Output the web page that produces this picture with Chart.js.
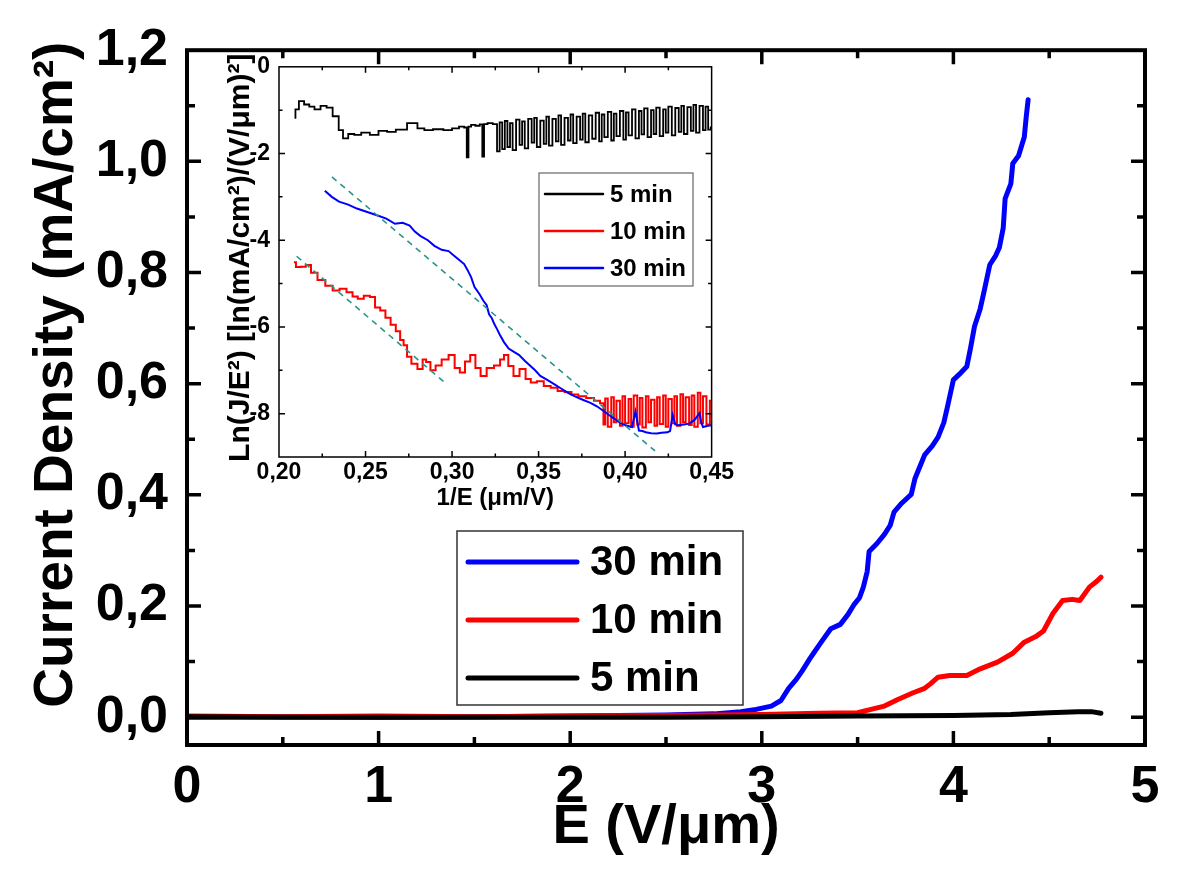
<!DOCTYPE html>
<html lang="en">
<head>
    <meta charset="UTF-8">
    <style>
        body {
            margin: 0;
            background-color: #ffffff;
        }
        .wrap {
            position: relative;
            width: 1200px;
            height: 878px;
        }
        #mainChart {
            position: absolute;
            left: 0;
            top: 0;
        }
        #insetChart {
            position: absolute;
            left: 196px;
            top: 44px;
        }
    </style>
    <script src="https://cdn.jsdelivr.net/npm/chart.js"></script>
    <title>Current Density vs E</title>
</head>
<body>
    <div class="wrap">
        <canvas id="mainChart" width="1200" height="878"></canvas>
        <canvas id="insetChart" width="540" height="484"></canvas>
    </div>

    <script>
        // ---- main plot data: J (mA/cm2) vs E (V/um)
        const seriesNames = ["30 min", "10 min", "5 min"];

        const blueE = [0, 0.5, 1.0, 1.5, 2.0, 2.5, 2.75, 2.89, 2.97, 3.05, 3.10, 3.14, 3.18, 3.21, 3.25, 3.27, 3.31,
            3.36, 3.41, 3.45, 3.48, 3.51, 3.53, 3.55, 3.56, 3.60, 3.64, 3.67, 3.69, 3.73, 3.78, 3.80, 3.83, 3.85,
            3.89, 3.92, 3.95, 3.97, 4.00, 4.04, 4.07, 4.09, 4.11, 4.14, 4.16, 4.19, 4.22, 4.24, 4.26, 4.27, 4.30,
            4.31, 4.34, 4.37, 4.38, 4.39];
        const blueJ = [0.000, 0.001, 0.000, 0.001, 0.002, 0.004, 0.006, 0.010, 0.014, 0.020, 0.030, 0.052, 0.068,
            0.083, 0.105, 0.115, 0.135, 0.159, 0.167, 0.185, 0.202, 0.215, 0.234, 0.262, 0.298, 0.312, 0.329, 0.345,
            0.369, 0.385, 0.401, 0.430, 0.455, 0.472, 0.488, 0.504, 0.530, 0.560, 0.607, 0.620, 0.631, 0.665, 0.703,
            0.735, 0.766, 0.814, 0.830, 0.845, 0.880, 0.933, 0.960, 0.996, 1.010, 1.044, 1.080, 1.111];

        const redE = [0, 0.5, 1.0, 1.5, 2.0, 2.5, 3.0, 3.3, 3.5, 3.57, 3.64, 3.71, 3.79, 3.85, 3.88, 3.92, 3.98,
            4.07, 4.14, 4.23, 4.31, 4.37, 4.43, 4.47, 4.52, 4.57, 4.62, 4.66, 4.71, 4.75, 4.77];
        const redJ = [0.002, 0.001, 0.002, 0.001, 0.002, 0.003, 0.005, 0.007, 0.008, 0.014, 0.020, 0.032, 0.044,
            0.052, 0.060, 0.072, 0.075, 0.075, 0.087, 0.099, 0.115, 0.135, 0.145, 0.155, 0.187, 0.210, 0.212,
            0.210, 0.234, 0.245, 0.252];

        const blackE = [0, 0.5, 1.0, 1.5, 2.0, 2.5, 3.0, 3.5, 4.0, 4.3, 4.5, 4.65, 4.72, 4.77];
        const blackJ = [0.001, 0.000, 0.000, 0.000, 0.000, 0.000, 0.001, 0.002, 0.003, 0.005, 0.008, 0.010, 0.010, 0.007];

        const mainXTicks = [0, 1, 2, 3, 4, 5];
        const mainXMinor = [0.5, 1.5, 2.5, 3.5, 4.5];
        const mainYTicks = [0, 0.2, 0.4, 0.6, 0.8, 1.0, 1.2];
        const mainYMinor = [0.1, 0.3, 0.5, 0.7, 0.9, 1.1];

        // ---- inset data: Ln(J/E^2) vs 1/E
        const insetNames = ["5 min", "10 min", "30 min"];

        const inv5 = [0.209, 0.210, 0.213, 0.216, 0.219, 0.222, 0.226, 0.229, 0.233, 0.236, 0.238, 0.242, 0.245,
            0.250, 0.255, 0.260, 0.265, 0.270, 0.278, 0.282, 0.286, 0.292, 0.298, 0.302, 0.306, 0.308, 0.309, 0.310,
            0.312, 0.315, 0.317, 0.318, 0.319, 0.322, 0.325,
            0.327, 0.328, 0.330, 0.331, 0.333, 0.334, 0.336, 0.338, 0.340, 0.341, 0.343, 0.345, 0.347, 0.348, 0.350,
            0.352, 0.354, 0.355, 0.357, 0.359, 0.361, 0.362, 0.364, 0.366, 0.368, 0.369, 0.371, 0.373, 0.375, 0.376,
            0.378, 0.380, 0.382, 0.384, 0.386, 0.387, 0.389, 0.391, 0.393, 0.394, 0.396, 0.398, 0.400, 0.401, 0.403,
            0.405, 0.407, 0.409, 0.410, 0.412, 0.414, 0.416, 0.417, 0.419, 0.421, 0.423, 0.424, 0.426, 0.428, 0.430,
            0.432, 0.433, 0.435, 0.437, 0.439, 0.440, 0.442, 0.444, 0.446, 0.447, 0.449, 0.450];
        const ln5 = [-1.18, -0.98, -0.79, -0.87, -0.92, -0.98, -0.90, -0.94, -1.14, -1.46, -1.65, -1.55, -1.57,
            -1.52, -1.57, -1.48, -1.50, -1.45, -1.30, -1.42, -1.46, -1.44, -1.46, -1.42, -1.38, -1.40, -2.09, -1.38,
            -1.34, -1.36, -1.33, -2.07, -1.32, -1.30, -1.32,
            -1.95, -1.28, -1.90, -1.25, -1.85, -1.30, -1.92, -1.22, -1.80, -1.26, -1.88, -1.20, -1.75, -1.18, -1.85,
            -1.24, -1.78, -1.15, -1.82, -1.20, -1.72, -1.12, -1.80, -1.18, -1.70, -1.10, -1.76, -1.15, -1.68, -1.08,
            -1.74, -1.12, -1.66, -1.06, -1.72, -1.10, -1.62, -1.04, -1.70, -1.08, -1.60, -1.02, -1.68, -1.05, -1.58,
            -0.98, -1.65, -1.02, -1.56, -0.96, -1.62, -1.00, -1.55, -0.94, -1.60, -0.98, -1.52, -0.92, -1.58, -0.95,
            -1.50, -0.90, -1.55, -0.93, -1.48, -0.88, -1.52, -0.90, -1.46, -0.92, -1.45, -1.40];

        const inv10 = [0.2086, 0.211, 0.214, 0.217, 0.220, 0.2245, 0.229, 0.233, 0.237, 0.241, 0.244, 0.247, 0.251,
            0.254, 0.257, 0.260, 0.263, 0.266, 0.269, 0.271, 0.273, 0.275, 0.278, 0.282, 0.284, 0.286, 0.289, 0.292,
            0.296, 0.300, 0.303, 0.306, 0.309, 0.312, 0.315, 0.318, 0.322, 0.3265, 0.329, 0.331, 0.334, 0.337, 0.341,
            0.344, 0.347, 0.351, 0.355, 0.359, 0.363, 0.367, 0.371, 0.375, 0.380, 0.384, 0.387,
            0.388, 0.389, 0.391, 0.393, 0.394, 0.396, 0.398, 0.399, 0.401, 0.403, 0.404, 0.406, 0.408, 0.409, 0.411,
            0.413, 0.414, 0.416, 0.418, 0.419, 0.421, 0.423, 0.424, 0.426, 0.428, 0.429, 0.431, 0.433, 0.434, 0.436,
            0.438, 0.439, 0.441, 0.443, 0.444, 0.446, 0.448, 0.450];
        const ln10 = [-4.51, -4.62, -4.61, -4.57, -4.75, -4.92, -5.05, -5.16, -5.12, -5.20, -5.30, -5.35, -5.28,
            -5.31, -5.55, -5.62, -5.79, -5.95, -6.10, -6.30, -6.42, -6.69, -6.85, -6.97, -6.75, -6.81, -7.00, -6.89,
            -6.75, -6.65, -6.95, -7.05, -6.80, -6.65, -6.95, -7.13, -6.95, -6.89, -6.75, -6.65, -6.90, -7.13, -6.97,
            -7.20, -7.28, -7.25, -7.36, -7.40, -7.48, -7.50, -7.56, -7.60, -7.64, -7.70, -7.76,
            -8.25, -7.65, -8.30, -7.62, -8.20, -7.70, -8.28, -7.60, -8.22, -7.66, -8.30, -7.58, -8.25, -7.64, -8.32,
            -7.60, -8.20, -7.68, -8.28, -7.62, -8.24, -7.58, -8.30, -7.66, -8.22, -7.60, -8.28, -7.55, -8.20, -7.62,
            -8.26, -7.58, -8.30, -7.52, -8.22, -7.60, -8.25, -7.70];

        const inv30 = [0.2265, 0.2305, 0.2347, 0.240, 0.245, 0.251, 0.257, 0.262, 0.267, 0.2715, 0.2755, 0.2785,
            0.2816, 0.286, 0.2898, 0.294, 0.298, 0.301, 0.304, 0.307, 0.309, 0.311, 0.313, 0.316, 0.318, 0.320,
            0.3214, 0.323, 0.3245, 0.326, 0.3276, 0.330, 0.3327, 0.336, 0.3388, 0.342, 0.345, 0.348, 0.351, 0.355,
            0.359, 0.363, 0.367, 0.371, 0.3755, 0.380, 0.3837, 0.388, 0.392, 0.395, 0.398, 0.401, 0.404, 0.406,
            0.408, 0.410, 0.412, 0.415, 0.4184, 0.421, 0.4245, 0.426, 0.4275, 0.429, 0.4306, 0.434, 0.437, 0.440,
            0.443, 0.444, 0.445, 0.448, 0.450];
        const ln30 = [-2.86, -3.00, -3.11, -3.18, -3.27, -3.35, -3.43, -3.50, -3.62, -3.60, -3.66, -3.80, -3.90,
            -4.00, -4.13, -4.22, -4.25, -4.35, -4.45, -4.55, -4.69, -4.85, -5.08, -5.25, -5.39, -5.50, -5.71, -5.80,
            -5.94, -6.05, -6.18, -6.35, -6.50, -6.58, -6.65, -6.78, -6.89, -7.00, -7.13, -7.22, -7.32, -7.42, -7.52,
            -7.60, -7.68, -7.75, -7.83, -7.95, -8.07, -8.15, -8.23, -8.28, -8.31, -7.95, -8.39, -8.40, -8.43, -8.45,
            -8.46, -8.44, -8.43, -8.40, -8.03, -8.25, -8.27, -8.25, -8.23, -8.15, -7.99, -8.20, -8.31, -8.28, -8.27];

        // dashed linear fits (end points)
        const fit30X = [0.2306, 0.4173];
        const fit30Y = [-2.54, -8.86];
        const fit10X = [0.2102, 0.2969];
        const fit10Y = [-4.37, -7.32];

        const insetXTicks = [0.20, 0.25, 0.30, 0.35, 0.40, 0.45];
        const insetXMinor = [0.225, 0.275, 0.325, 0.375, 0.425];
        const insetYTicks = [-8, -6, -4, -2, 0];
        const insetYMinor = [-9, -7, -5, -3, -1];

        const BLUE = "#0000ff";
        const RED = "#ff0000";
        const BLACK = "#000000";
        const FIT = "#2a9488";
        const FONT = "'Liberation Sans', Arial, Helvetica, sans-serif";

        function pts(xs, ys) {
            const out = [];
            for (let i = 0; i < Math.min(xs.length, ys.length); i++) {
                out.push({ x: xs[i], y: ys[i] });
            }
            return out;
        }

        // frame box + inward ticks on all four sides
        const frameTicks = {
            id: "frameTicks",
            afterDraw(chart, args, opts) {
                const ctx = chart.ctx;
                const a = chart.chartArea;
                const xs = chart.scales.x;
                const ys = chart.scales.y;
                ctx.save();
                ctx.strokeStyle = "#000";
                ctx.lineWidth = opts.tickWidth;
                ctx.lineCap = "butt";
                const tickX = (vals, len) => {
                    vals.forEach(v => {
                        const p = xs.getPixelForValue(v);
                        if (p < a.left + 1 || p > a.right - 1) return;
                        ctx.beginPath();
                        ctx.moveTo(p, a.bottom); ctx.lineTo(p, a.bottom - len);
                        ctx.moveTo(p, a.top); ctx.lineTo(p, a.top + len);
                        ctx.stroke();
                    });
                };
                const tickY = (vals, len) => {
                    vals.forEach(v => {
                        const p = ys.getPixelForValue(v);
                        if (p < a.top + 1 || p > a.bottom - 1) return;
                        ctx.beginPath();
                        ctx.moveTo(a.left, p); ctx.lineTo(a.left + len, p);
                        ctx.moveTo(a.right, p); ctx.lineTo(a.right - len, p);
                        ctx.stroke();
                    });
                };
                tickX(xs.ticks.map(t => t.value), opts.major);
                tickX(opts.xMinor, opts.minor);
                tickY(ys.ticks.map(t => t.value), opts.major);
                tickY(opts.yMinor, opts.minor);
                ctx.lineWidth = opts.frameWidth;
                ctx.strokeRect(a.left, a.top, a.right - a.left, a.bottom - a.top);
                ctx.restore();
            }
        };

        // boxed legend at a fixed spot
        const boxLegend = {
            id: "boxLegend",
            afterDraw(chart, args, opts) {
                const ctx = chart.ctx;
                ctx.save();
                ctx.fillStyle = "#fff";
                ctx.fillRect(opts.x, opts.y, opts.w, opts.h);
                ctx.strokeStyle = opts.borderColor;
                ctx.lineWidth = opts.borderWidth;
                ctx.strokeRect(opts.x, opts.y, opts.w, opts.h);
                ctx.font = "bold " + opts.fontSize + "px " + FONT;
                ctx.textBaseline = "middle";
                ctx.textAlign = "left";
                opts.items.forEach((it, i) => {
                    const yy = opts.rowY[i];
                    ctx.strokeStyle = it.color;
                    ctx.lineWidth = opts.lineWidth;
                    ctx.lineCap = "round";
                    ctx.beginPath();
                    ctx.moveTo(opts.lineX0, yy);
                    ctx.lineTo(opts.lineX1, yy);
                    ctx.stroke();
                    ctx.fillStyle = "#000";
                    ctx.fillText(it.label, opts.textX, yy + 1);
                });
                ctx.restore();
            }
        };

        const mainCtx = document.getElementById("mainChart").getContext("2d");
        new Chart(mainCtx, {
            type: "scatter",
            data: {
                datasets: [
                    { label: seriesNames[2], data: pts(blackE, blackJ), borderColor: BLACK },
                    { label: seriesNames[1], data: pts(redE, redJ), borderColor: RED },
                    { label: seriesNames[0], data: pts(blueE, blueJ), borderColor: BLUE }
                ].map(d => Object.assign(d, {
                    showLine: true, pointRadius: 0, borderWidth: 5, tension: 0,
                    borderJoinStyle: "round", borderCapStyle: "round"
                }))
            },
            options: {
                responsive: false,
                animation: false,
                devicePixelRatio: 1,
                layout: { padding: { left: 0, top: 40, right: 55, bottom: 0 } },
                plugins: {
                    legend: { display: false },
                    tooltip: { enabled: false },
                    frameTicks: { major: 14, minor: 8, tickWidth: 3.5, frameWidth: 4, xMinor: mainXMinor, yMinor: mainYMinor },
                    boxLegend: {
                        x: 457, y: 531, w: 286, h: 174, borderColor: "#333", borderWidth: 1.5,
                        fontSize: 42, lineWidth: 5, lineX0: 468, lineX1: 577, textX: 590,
                        rowY: [562, 620, 678],
                        items: [
                            { label: seriesNames[0], color: BLUE },
                            { label: seriesNames[1], color: RED },
                            { label: seriesNames[2], color: BLACK }
                        ]
                    }
                },
                scales: {
                    x: {
                        type: "linear",
                        min: 0, max: 5,
                        afterBuildTicks: s => { s.ticks = mainXTicks.map(v => ({ value: v })); },
                        afterFit: s => { s.height = 133; },
                        grid: { display: false, drawTicks: false },
                        border: { display: false },
                        ticks: {
                            padding: 11, color: "#000", maxRotation: 0,
                            font: { family: FONT, size: 52, weight: "bold" },
                            callback: v => String(v)
                        },
                        title: {
                            display: true, text: "E (V/\u03bcm)", color: "#000",
                            font: { family: FONT, size: 56, weight: "bold" },
                            padding: { top: 0, bottom: 17 }
                        }
                    },
                    y: {
                        type: "linear",
                        min: -0.05, max: 1.2,
                        afterBuildTicks: s => { s.ticks = mainYTicks.map(v => ({ value: v })); },
                        afterFit: s => { s.width = 187; },
                        grid: { display: false, drawTicks: false },
                        border: { display: false },
                        ticks: {
                            padding: 19, color: "#000",
                            font: { family: FONT, size: 52, weight: "bold" },
                            callback: v => v.toFixed(1).replace(".", ",")
                        },
                        title: {
                            display: true, text: "   Current Density (mA/cm\u00b2)", color: "#000",
                            font: { family: FONT, size: 55, weight: "bold" },
                            padding: { top: 24, bottom: 0 }
                        }
                    }
                }
            },
            plugins: [frameTicks, boxLegend]
        });

        const insetCtx = document.getElementById("insetChart").getContext("2d");
        new Chart(insetCtx, {
            type: "scatter",
            data: {
                datasets: [
                    { label: "fit 30", data: pts(fit30X, fit30Y), borderColor: FIT, borderWidth: 1.6, borderDash: [6, 5] },
                    { label: "fit 10", data: pts(fit10X, fit10Y), borderColor: FIT, borderWidth: 1.6, borderDash: [6, 5] },
                    { label: insetNames[0], data: pts(inv5, ln5), borderColor: BLACK, borderWidth: 1.8, stepped: "middle" },
                    { label: insetNames[2], data: pts(inv30, ln30), borderColor: BLUE, borderWidth: 2 },
                    { label: insetNames[1], data: pts(inv10, ln10), borderColor: RED, borderWidth: 2, stepped: "middle" }
                ].map(d => Object.assign(d, { showLine: true, pointRadius: 0, tension: 0 }))
            },
            options: {
                responsive: false,
                animation: false,
                devicePixelRatio: 1,
                layout: { padding: { left: 0, top: 22, right: 18, bottom: 0 } },
                plugins: {
                    legend: { display: false },
                    tooltip: { enabled: false },
                    frameTicks: { major: 6, minor: 3.5, tickWidth: 1.5, frameWidth: 1.5, xMinor: insetXMinor, yMinor: insetYMinor },
                    boxLegend: {
                        x: 343, y: 129, w: 154, h: 113, borderColor: "#666", borderWidth: 1.2,
                        fontSize: 24, lineWidth: 2.5, lineX0: 349, lineX1: 407, textX: 414,
                        rowY: [150, 187, 224],
                        items: [
                            { label: insetNames[0], color: BLACK },
                            { label: insetNames[1], color: RED },
                            { label: insetNames[2], color: BLUE }
                        ]
                    }
                },
                scales: {
                    x: {
                        type: "linear",
                        min: 0.20, max: 0.45,
                        afterBuildTicks: s => { s.ticks = insetXTicks.map(v => ({ value: v })); },
                        afterFit: s => { s.height = 71; },
                        grid: { display: false, drawTicks: false },
                        border: { display: false },
                        ticks: {
                            padding: 2, color: "#000", maxRotation: 0,
                            font: { family: FONT, size: 23, weight: "bold" },
                            callback: v => v.toFixed(2).replace(".", ",")
                        },
                        title: {
                            display: true, text: "1/E (\u03bcm/V)", color: "#000",
                            font: { family: FONT, size: 24, weight: "bold" },
                            padding: { top: 0, bottom: 15 }
                        }
                    },
                    y: {
                        type: "linear",
                        min: -9, max: 0,
                        afterBuildTicks: s => { s.ticks = insetYTicks.map(v => ({ value: v })); },
                        afterFit: s => { s.width = 83; },
                        grid: { display: false, drawTicks: false },
                        border: { display: false },
                        ticks: {
                            padding: 9, color: "#000",
                            font: { family: FONT, size: 23, weight: "bold" },
                            callback: v => String(v)
                        },
                        title: {
                            display: true, text: " Ln(J/E\u00b2) [ln(mA/cm\u00b2)/(V/\u03bcm)\u00b2]", color: "#000",
                            font: { family: FONT, size: 30, weight: "bold" },
                            padding: { top: 27, bottom: 0 }
                        }
                    }
                }
            },
            plugins: [frameTicks, boxLegend]
        });
    </script>
</body>
</html>
